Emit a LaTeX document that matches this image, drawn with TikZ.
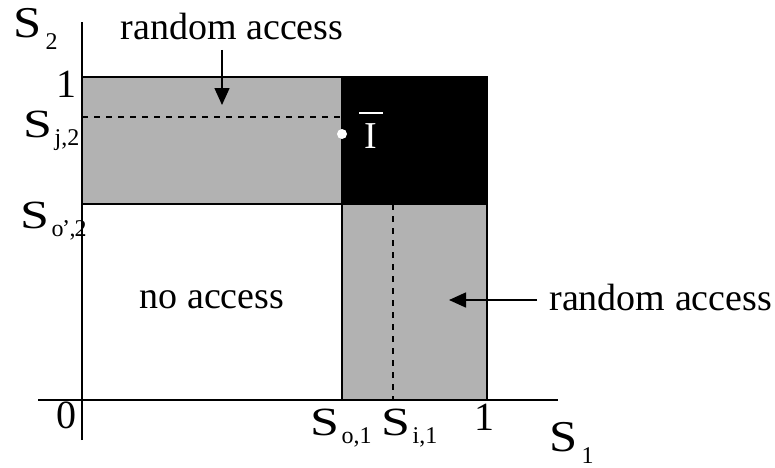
\documentclass[tikz,border=0pt]{standalone}
\usepackage{fontspec}
\usepackage{graphicx}
\setmainfont{Liberation Serif}
\usetikzlibrary{arrows.meta,positioning}
% wide S with a lowered index
\newcommand{\slab}[1]{{\fontsize{20}{22}\selectfont\scalebox{1.3}[1]{S}}\kern1.2pt\raisebox{-4pt}{\fontsize{12}{12}\selectfont #1}}
\newcommand{\axlab}[1]{{\fontsize{22}{24}\selectfont\scalebox{1.15}[1]{S}}\kern2pt\raisebox{-6pt}{\fontsize{12}{12}\selectfont #1}}
\newcommand{\ibar}{{\fontsize{19}{21}\selectfont\makebox[0pt]{\raisebox{17pt}{\rule{12pt}{1pt}}}\makebox[0pt]{I}}}
\tikzset{zone/.style={draw, line width=0.75pt, fill=gray!60},
  hot/.style={draw, line width=0.75pt, fill=black},
  axe/.style={line width=0.75pt},
  guide/.style={dashed, line width=0.6pt},
  acc/.style={-{Triangle[length=8.5pt, width=7.5pt]}, line width=0.75pt},
  lab/.style={inner sep=0pt, anchor=base west},
  digit/.style={inner sep=0pt, font=\fontsize{20}{22}\selectfont}}

\begin{document}
\begin{tikzpicture}[x=0.5pt, y=-0.5pt, font=\fontsize{19}{22}\selectfont]
  \useasboundingbox (0,0) rectangle (775,467);
  % regions
  \filldraw[zone] (82,77) rectangle (342,204);
  \filldraw[hot] (342,77) rectangle (487,204);
  \filldraw[zone] (342,204) rectangle (487,400);
  \draw[guide] (82,117) -- (342,117);
  \draw[guide] (393,204) -- (393,400);
  % axes
  \draw[axe] (38,400) -- (558,400);
  \draw[axe] (82,440) -- (82,22);
  % point
  \fill[white] (342,134) circle (2.5pt);
  \node[inner sep=0pt, text=white, anchor=base] (ib) at (371,148) {\ibar};
  % tick labels
  \node[lab] (s2) at (13,37) {\axlab{2}};
  \node[digit, anchor=base east] (one2) at (77,97) {1};
  \node[lab] (sj2) at (23,137) {\slab{j,2}};
  \node[lab] (so2) at (20,228) {\slab{o\kern-0.8pt'\kern-0.3pt,\kern-0.5pt2}};
  \node[digit, anchor=base east] (zero) at (77,428) {0};
  \node[lab] (so1) at (310,435) {\slab{o,1}};
  \node[lab] (si1) at (381,435) {\slab{i,1}};
  \node[digit, anchor=base] (one1) at (484,430) {1};
  \node[lab] (s1) at (549,451) {\axlab{1}};
  % region labels
  \node[inner sep=0pt] (none) at (212,300) {no access};
  \node[inner sep=0pt] (ratop) at (232,26) {random access};
  \node[inner sep=0pt, anchor=west] (rarht) at (549,297) {random access};
  \coordinate (tiptop) at (222,105);
  \coordinate (tipr) at (449,300);
  \draw[acc] ([yshift=-5pt]tiptop |- ratop.south) -- (tiptop);
  \draw[acc] ([xshift=-6pt]rarht.west |- tipr) -- (tipr);
\end{tikzpicture}
\end{document}
